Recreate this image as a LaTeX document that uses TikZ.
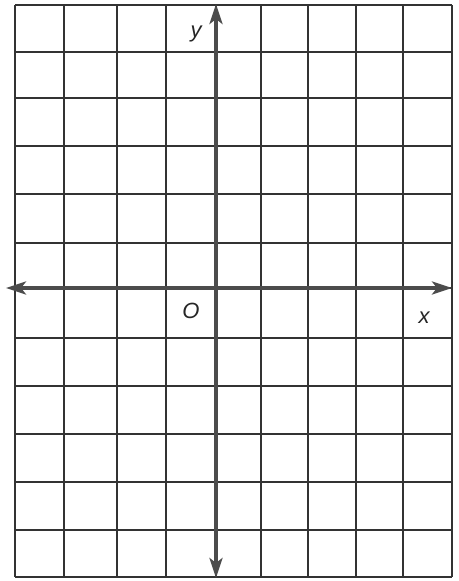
\documentclass[tikz,border=0pt]{standalone}
\usepackage{fontspec}
\setmainfont{Liberation Sans}
\usetikzlibrary{arrows.meta}
\begin{document}
\begin{tikzpicture}[x=1pt,y=-1pt,
  gridline/.style={draw=black!80,line width=1.6pt},
  axisline/.style={draw=black!70,line width=3.6pt,-{Stealth[length=20pt,width=13pt,inset=5pt]}},
  lbl/.style={font=\itshape\fontsize{22}{22}\selectfont,text=black!85,inner sep=0pt}]
\useasboundingbox[fill=white] (0,0) rectangle (458,581);
\foreach \xx in {15,64,117,166,261,308,356,403,452}
  \draw[gridline] (\xx,5) -- (\xx,577);
\foreach \yy in {5,52,98,146,194,243,338,386,434,482,530,577}
  \draw[gridline] (15,\yy) -- (452,\yy);
\draw[gridline] (216,5) -- (216,577);
\draw[gridline] (15,288) -- (452,288);
\coordinate (xl) at (6,288);
\coordinate (xr) at (452,288);
\coordinate (yt) at (216,4);
\coordinate (yb) at (216,578);
\coordinate (org) at (216,288);
\draw[axisline] (org) -- (xr);
\draw[axisline] (org) -- (xl);
\draw[axisline] (org) -- (yt);
\draw[axisline] (org) -- (yb);
\node[lbl] (ylab) at (196,34) {y};
\node[lbl] (olab) at (191,311) {O};
\node[lbl] (xlab) at (424,318) {x};
\end{tikzpicture}
\end{document}
